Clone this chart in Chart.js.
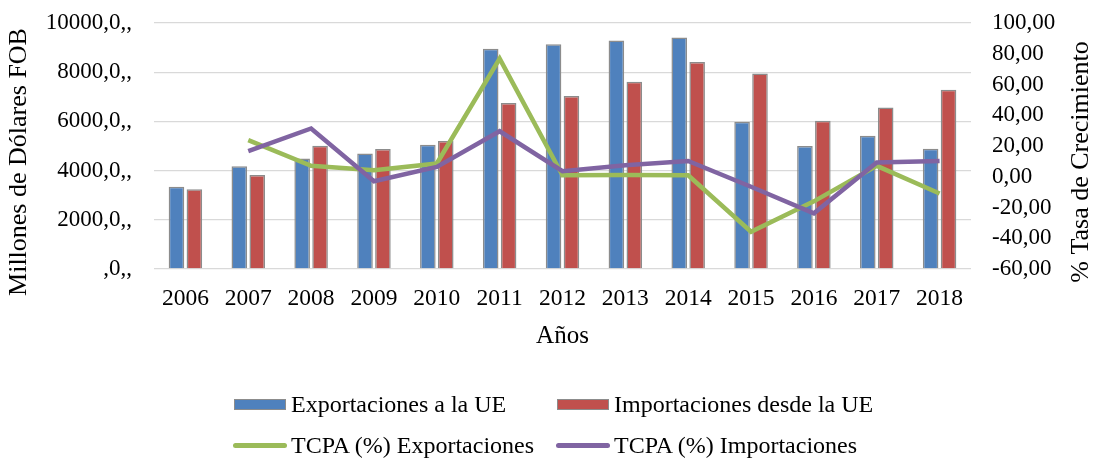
<!DOCTYPE html>
<html>
<head>
<meta charset="utf-8">
<script src="https://cdn.jsdelivr.net/npm/chart.js@4/dist/chart.umd.min.js"></script>
<style>
  body { margin: 0; background: #fff; }
  #wrap { position: relative; width: 1098px; height: 459px; }
  #legend { position: absolute; left: 0; top: 0; width: 1098px; height: 459px; pointer-events: none;
            font-family: "Liberation Serif", "Times New Roman", serif; font-size: 24px; color: #000; }
  .item { position: absolute; display: flex; align-items: center; white-space: nowrap; }
  .box { width: 52px; height: 11px; margin-right: 5px; box-sizing: border-box; border: 1px solid #8c8c8c; }
  .line { width: 54px; height: 5px; margin-right: 4px; border-radius: 3px; }
</style>
</head>
<body>
<div id="wrap">
  <canvas id="chart" width="1098" height="459"></canvas>
  <div id="legend"></div>
</div>
<script>
const years = ["2006", "2007", "2008", "2009", "2010", "2011", "2012", "2013", "2014", "2015", "2016", "2017", "2018"];
const exportaciones = [3340, 4180, 4490, 4700, 5055, 8950, 9140, 9290, 9410, 5990, 5000, 5420, 4890];
const importaciones = [3245, 3825, 5015, 4880, 5205, 6746, 7030, 7610, 8410, 7950, 6030, 6570, 7285];
const tcpaExp = [null, 23.8, 7.1, 4.3, 8.6, 76.8, 1.0, 1.2, 1.0, -35.8, -16.0, 7.1, -10.9];
const tcpaImp = [null, 16.6, 31.4, -2.9, 6.4, 29.6, 3.6, 7.5, 10.3, -6.5, -23.8, 9.3, 10.3];

const FONT = "'Liberation Serif', 'Times New Roman', serif";
const BLUE = "#4F81BD", RED = "#C0504D", GREEN = "#9BBB59", PURPLE = "#8064A2";

// rotated axis titles, both reading bottom to top
const axisTitles = {
  id: "axisTitles",
  afterDraw(chart) {
    const ctx = chart.ctx;
    ctx.save();
    ctx.fillStyle = "#000";
    ctx.font = "26px " + FONT;
    ctx.textAlign = "center";
    ctx.textBaseline = "middle";
    [[19, "Millones de Dólares FOB"], [1081, "% Tasa de Crecimiento"]].forEach(([x, t]) => {
      ctx.save();
      ctx.translate(x, 162);
      ctx.rotate(-Math.PI / 2);
      ctx.fillText(t, 0, 0);
      ctx.restore();
    });
    ctx.restore();
  }
};

// fixed side widths, no extra room for label overflow
const fixWidth = w => s => { s.width = w; s.paddingTop = 0; s.paddingBottom = 0; };

const ctx = document.getElementById("chart").getContext("2d");
new Chart(ctx, {
  data: {
    labels: years,
    datasets: [
      { type: "line", label: "TCPA (%) Importaciones", data: tcpaImp, yAxisID: "y1",
        borderColor: PURPLE, borderWidth: 4.5, pointRadius: 0, tension: 0, order: 0 },
      { type: "line", label: "TCPA (%) Exportaciones", data: tcpaExp, yAxisID: "y1",
        borderColor: GREEN, borderWidth: 4.5, pointRadius: 0, tension: 0, order: 1 },
      { type: "bar", label: "Exportaciones a la UE", data: exportaciones, yAxisID: "y",
        backgroundColor: BLUE, borderColor: "#8c8c8c", borderWidth: 1.5, order: 2,
        categoryPercentage: 0.57, barPercentage: 0.87 },
      { type: "bar", label: "Importaciones desde la UE", data: importaciones, yAxisID: "y",
        backgroundColor: RED, borderColor: "#8c8c8c", borderWidth: 1.5, order: 2,
        categoryPercentage: 0.57, barPercentage: 0.87 }
    ]
  },
  options: {
    responsive: false,
    animation: false,
    layout: { padding: { top: 23, bottom: 104, left: 0, right: 0 } },
    plugins: { legend: { display: false }, tooltip: { enabled: false } },
    scales: {
      x: {
        afterFit: s => { s.height = 86; s.paddingLeft = 0; s.paddingRight = 0; },
        grid: { display: false, drawTicks: false },
        border: { display: false },
        ticks: { color: "#000", font: { family: FONT, size: 23.5 }, padding: 16, maxRotation: 0 },
        title: { display: true, text: "Años", color: "#000", font: { family: FONT, size: 25 }, padding: { top: 4, bottom: 4 } }
      },
      y: {
        position: "left", min: 0, max: 10000,
        afterFit: fixWidth(154),
        grid: { color: "#d9d9d9", lineWidth: 1.3, drawTicks: false },
        border: { display: false },
        ticks: { stepSize: 2000, color: "#000", font: { family: FONT, size: 23 }, padding: 22,
                 callback: v => (v === 0 ? "" : v) + ",0,," }
      },
      y1: {
        position: "right", min: -60, max: 100,
        afterFit: fixWidth(127),
        grid: { display: false, drawTicks: false },
        border: { display: false },
        ticks: { stepSize: 20, autoSkip: false, color: "#000", font: { family: FONT, size: 23 }, padding: 21,
                 callback: v => v.toFixed(2).replace(".", ",") }
      }
    }
  },
  plugins: [axisTitles]
});

// two-column legend under the plot
const legendItems = [
  { text: "Exportaciones a la UE", color: BLUE, kind: "box", x: 234, y: 404 },
  { text: "Importaciones desde la UE", color: RED, kind: "box", x: 557, y: 404 },
  { text: "TCPA (%) Exportaciones", color: GREEN, kind: "line", x: 233, y: 445 },
  { text: "TCPA (%) Importaciones", color: PURPLE, kind: "line", x: 556, y: 445 }
];
const legend = document.getElementById("legend");
legendItems.forEach(it => {
  const d = document.createElement("div");
  d.className = "item";
  d.style.left = it.x + "px";
  d.style.top = (it.y - 14) + "px";
  d.style.height = "28px";
  const m = document.createElement("span");
  m.className = it.kind;
  m.style.background = it.color;
  d.appendChild(m);
  const t = document.createElement("span");
  t.textContent = it.text;
  d.appendChild(t);
  legend.appendChild(d);
});
</script>
</body>
</html>
